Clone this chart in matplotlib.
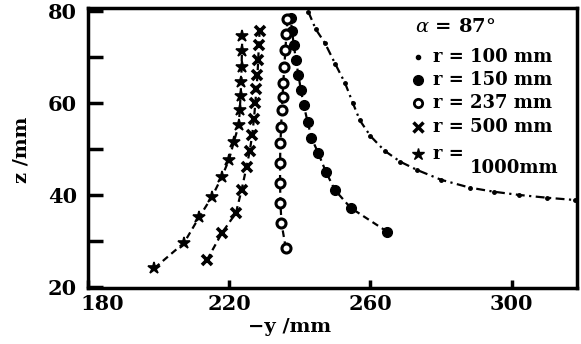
import matplotlib
matplotlib.use("Agg")
import matplotlib.pyplot as plt
from matplotlib.transforms import ScaledTranslation

# ---- data (-y in mm, z in mm) ----
Y_R100 = [242.4, 244.5, 247.1, 250.0, 252.8, 255.0, 257.0, 260.0, 264.0, 268.5,
          273.3, 280.0, 288.1, 295.0, 302.2, 310.0, 318.0]
Z_R100 = [79.8, 76.0, 73.0, 68.5, 64.3, 60.0, 56.2, 52.8, 49.6, 47.2,
          45.4, 43.3, 41.6, 40.7, 40.0, 39.4, 38.9]

Y_R150 = [264.8, 254.4, 249.9, 247.4, 245.2, 243.3, 242.2, 241.1, 240.3, 239.6,
          238.9, 238.3, 237.8, 237.4]
Z_R150 = [32.0, 37.2, 41.1, 45.0, 49.1, 52.4, 55.9, 59.5, 62.8, 66.0,
          69.3, 72.5, 75.5, 78.5]

Y_R237 = [236.0, 234.8, 234.5, 234.4, 234.4, 234.5, 234.7, 234.9, 235.1, 235.3,
          235.6, 235.9, 236.2, 236.5]
Z_R237 = [28.5, 33.9, 38.3, 42.6, 47.0, 51.3, 54.8, 58.5, 61.3, 64.3,
          67.8, 71.5, 75.0, 78.3]

Y_R500 = [213.7, 217.9, 221.9, 223.5, 224.9, 225.8, 226.5, 227.0, 227.4, 227.7,
          228.0, 228.2, 228.4, 228.6]
Z_R500 = [25.9, 31.7, 36.1, 41.1, 46.1, 49.5, 53.0, 56.5, 60.0, 63.0,
          66.0, 69.3, 72.5, 75.5]

Y_R1000 = [198.8, 207.2, 211.5, 215.1, 217.9, 219.9, 221.3, 222.7, 223.0, 223.2,
           223.4, 223.5, 223.6, 223.7]
Z_R1000 = [24.1, 29.6, 35.2, 39.6, 43.9, 47.6, 51.5, 55.2, 58.5, 61.5,
           64.5, 67.8, 71.3, 74.5]

X_TICKS = [180, 220, 260, 300]
Y_TICKS = [20, 40, 60, 80]
Y_MINOR = [30, 50, 70]

plt.rcParams["font.family"] = "DejaVu Serif"
plt.rcParams["mathtext.fontset"] = "dejavuserif"

fig = plt.figure(figsize=(5.81, 3.44), dpi=100)
ax = fig.add_axes([88 / 581, 1 - 288 / 344, 489 / 581, 280 / 344])

k = "black"
ax.plot(Y_R100, Z_R100, color=k, lw=1.6, ls=(0, (4, 2, 1, 2)),
        marker="o", ms=2.5)
ax.plot(Y_R150, Z_R150, color=k, lw=1.6, ls=(0, (3, 2)),
        marker="o", ms=7)
ax.plot(Y_R237, Z_R237, color=k, lw=1.6, ls=(0, (3, 2)),
        marker="o", ms=6.5, mfc="white", mew=2.2)
ax.plot(Y_R500, Z_R500, color=k, lw=1.6, ls=(0, (3, 2)),
        marker="x", ms=6.5, mew=2.6)
ax.plot(Y_R1000, Z_R1000, color=k, lw=1.6, ls=(0, (3, 2)),
        marker="*", ms=9, mew=1.2)

ax.set_xlim(180, 318.5)
ax.set_ylim(19.8, 80.6)
ax.set_xticks(X_TICKS)
ax.set_yticks(Y_TICKS)
ax.set_yticks(Y_MINOR, minor=True)
ax.tick_params(axis="both", which="both", direction="in", width=2.5)
ax.tick_params(axis="y", which="both", length=11, pad=8)
ax.tick_params(axis="x", length=6, pad=4)
for lab in ax.get_xticklabels() + ax.get_yticklabels():
    lab.set_fontsize(15)
    lab.set_fontweight("bold")
# first x label sits a little right of the corner, as in the original
first = ax.get_xticklabels()[0]
first.set_transform(first.get_transform()
                    + ScaledTranslation(14 / 100, 0, fig.dpi_scale_trans))
for s in ax.spines.values():
    s.set_linewidth(2.5)

# ---- hand-made legend box (top right) ----
tf = ax.transAxes
fs = 13
ax.text(0.669, 0.932, r"$\alpha$ = 87°", transform=tf, fontsize=fs + 1,
        fontweight="bold", va="center", ha="left")
rows = [
    (0.825, "o", dict(ms=3, mfc=k), "r = 100 mm"),
    (0.743, "o", dict(ms=7, mfc=k), "r = 150 mm"),
    (0.661, "o", dict(ms=6, mfc="white", mew=2), "r = 237 mm"),
    (0.575, "x", dict(ms=6.5, mew=2.5), "r = 500 mm"),
]
for yy, mk, kw, txt in rows:
    ax.plot([0.674], [yy], marker=mk, color=k, transform=tf, clip_on=False,
            ls="none", **kw)
    ax.text(0.705, yy, txt, transform=tf, fontsize=fs, fontweight="bold",
            va="center", ha="left", clip_on=True)
ax.plot([0.674], [0.48], marker="*", color=k, ms=9, transform=tf,
        clip_on=False, ls="none")
ax.text(0.705, 0.48, "r =", transform=tf, fontsize=fs, fontweight="bold",
        va="center", ha="left")
ax.text(0.78, 0.43, "1000mm", transform=tf, fontsize=fs, fontweight="bold",
        va="center", ha="left", clip_on=True)

fig.text(290 / 581, 1 - 327 / 344, "−y /mm", fontsize=14, fontweight="bold",
         ha="center", va="center")
fig.text(22 / 581, 1 - 150 / 344, "z /mm", fontsize=14, fontweight="bold",
         ha="center", va="center", rotation=90)

fig.savefig("out.png", dpi=100)
